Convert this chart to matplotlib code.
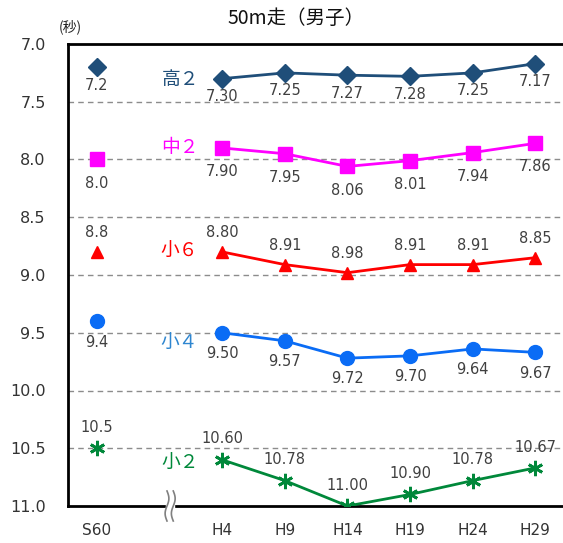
import matplotlib
matplotlib.use("Agg")
import matplotlib.pyplot as plt
import numpy as np

plt.rcParams['font.family'] = ['DejaVu Sans', 'Noto Sans CJK JP']
CJK = ['Noto Sans CJK JP', 'DejaVu Sans']

categories = ["S60", "H4", "H9", "H14", "H19", "H24", "H29"]
x_pos = [0, 2, 3, 4, 5, 6, 7]

series_names = ["高２", "中２", "小６", "小４", "小２"]
s60_values = [7.2, 8.0, 8.8, 9.4, 10.5]
s60_labels = ["7.2", "8.0", "8.8", "9.4", "10.5"]
koko2 = [7.30, 7.25, 7.27, 7.28, 7.25, 7.17]
chu2 = [7.90, 7.95, 8.06, 8.01, 7.94, 7.86]
sho6 = [8.80, 8.91, 8.98, 8.91, 8.91, 8.85]
sho4 = [9.50, 9.57, 9.72, 9.70, 9.64, 9.67]
sho2 = [10.60, 10.78, 11.00, 10.90, 10.78, 10.67]
series_values = [koko2, chu2, sho6, sho4, sho2]

y_ticks = [7.0, 7.5, 8.0, 8.5, 9.0, 9.5, 10.0, 10.5, 11.0]

colors = ["#1F4E79", "#FF00FF", "#FF0000", "#0A6CF5", "#00883A"]
name_colors = ["#1F4E79", "#FF00FF", "#FF0000", "#2E86D0", "#00883A"]
markers = ["D", "s", "^", "o", (6, 2, 0)]
msizes = [9, 10, 9, 10, 11]
label_offsets = [-13, -17, 14, -15, 15]  # points; negative = below
name_pos = [(1.33, 7.31), (1.33, 7.90), (1.31, 8.80), (1.31, 9.59), (1.33, 10.63)]

fig = plt.figure(figsize=(5.63, 5.43), dpi=100)
ax = fig.add_axes([68/563, 37/543, 1 - 68/563, 462/543])

ax.set_xlim(-0.46, 7.44)
ax.set_ylim(11.0, 7.0)

for yv in y_ticks[1:-1]:
    ax.axhline(yv, color="#8C8C8C", lw=1.0, ls=(0, (4, 3)), zorder=1)

hx = x_pos[1:]
for i in range(5):
    c = colors[i]
    mew = 2.0 if i == 4 else 1.0
    ax.plot(hx, series_values[i], color=c, lw=2.0, marker=markers[i], ms=msizes[i],
            markeredgewidth=mew, markerfacecolor=c, markeredgecolor=c, zorder=3)
    ax.plot([x_pos[0]], [s60_values[i]], ls="none", marker=markers[i], ms=msizes[i],
            markeredgewidth=mew, color=c, zorder=3)
    off = label_offsets[i]
    ax.annotate(s60_labels[i], (x_pos[0], s60_values[i]), xytext=(0, off),
                textcoords="offset points", ha="center", va="center",
                fontsize=10.5, color="#404040")
    for xv, v in zip(hx, series_values[i]):
        ax.annotate(f"{v:.2f}", (xv, v), xytext=(0, off),
                    textcoords="offset points", ha="center", va="center",
                    fontsize=10.5, color="#404040")
    ax.text(name_pos[i][0], name_pos[i][1], series_names[i], color=name_colors[i],
            fontsize=13.5, ha="center", va="center", family=CJK)

ax.set_yticks(y_ticks)
ax.set_yticklabels([f"{t:.1f}" for t in y_ticks], fontsize=11.5, color="#333333")
ax.set_xticks(x_pos)
ax.set_xticklabels(categories, fontsize=11, color="#333333")
ax.tick_params(axis="both", length=0)
ax.tick_params(axis="y", pad=16)
ax.tick_params(axis="x", pad=12)

for side in ["top", "bottom", "left"]:
    ax.spines[side].set_linewidth(2.0)
    ax.spines[side].set_color("black")
ax.spines["right"].set_visible(False)

# axis break mark
tr = ax.get_xaxis_transform()
t = np.linspace(-0.5, 0.5, 60)
bx = 1.17
ax.fill_between([bx - 0.06, bx + 0.06], -0.02, 0.02, transform=tr, color="white",
                zorder=5, clip_on=False)
for dx in (-0.05, 0.05):
    xs = bx + dx + 0.03 * np.sin(t * 2 * np.pi)
    ys = t * 0.065
    ax.plot(xs, ys, transform=tr, color="#808080", lw=1.2, zorder=6, clip_on=False)

fig.text(296/563, 1 - 18/543, "50m走（男子）", ha="center", va="center", fontsize=14,
         color="#111111", family=CJK)
fig.text(70/563, 1 - 27/543, "(秒)", ha="center", va="center", fontsize=10,
         color="#222222", family=CJK)

fig.savefig("out.png", dpi=100)
